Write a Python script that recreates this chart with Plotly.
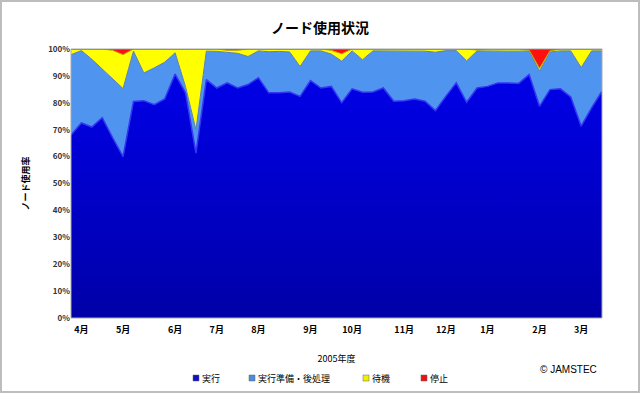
import plotly.graph_objects as go

# Weekly points of fiscal year 2005 (index 0..51)
weeks = list(range(52))
month_labels = ["4月", "5月", "6月", "7月", "8月", "9月", "10月", "11月", "12月", "1月", "2月", "3月"]
month_pos = [1, 5, 10, 14, 18, 23, 27, 32, 36, 40, 45, 49]

# cumulative boundaries (%)
run_top = [68, 72.5, 71, 74.5, 67, 60, 80.5, 80.8, 79.3, 81.4, 90.7, 83.7, 61.3, 88.6, 85.5, 87.4,
           85.5, 86.8, 89.3, 83.7, 83.7, 84.0, 82.4, 88.3, 85.5, 86.1, 80.0, 85.2, 83.9, 84.0, 85.5, 80.6,
           80.8, 81.4, 80.6, 77.1, 82.4, 87.4, 80.2, 85.5, 86.1, 87.4, 87.4, 87.2, 90.5, 78.7, 84.9, 85.2,
           82.2, 71.3, 78.1, 84.3]
prep_top = [97.9, 99.4, 96.2, 92.6, 89, 85.3, 99.2, 91.1, 93.0, 95.1, 98.6, 86, 70, 99.2, 99.1, 98.7,
            98.4, 97.2, 99.3, 99.0, 99.1, 98.9, 93.5, 99.3, 99.3, 98.1, 95.5, 99.3, 96.0, 99.3, 99.3, 99.3,
            99.3, 99.3, 99.2, 98.8, 99.4, 99.4, 95.6, 99.3, 99.2, 99.2, 99.2, 99.2, 99.3, 91.8, 98.9, 99.3,
            99.3, 93.1, 99.3, 99.3]
wait_top = [100, 100, 100, 100, 99.5, 97.9, 100, 100, 100, 100, 100, 100, 100, 100, 100, 99.5,
            99.5, 100, 100, 100, 100, 100, 100, 100, 100, 99.5, 98.2, 100, 100, 100, 100, 100,
            100, 100, 100, 100, 100, 100, 100, 99.6, 100, 100, 100, 100, 99.6, 92.8, 99.3, 100,
            100, 100, 100, 100]

run = run_top
prep = [round(p - r, 2) for p, r in zip(prep_top, run_top)]
wait = [round(w - p, 2) for w, p in zip(wait_top, prep_top)]
stop = [round(100 - w, 2) for w in wait_top]

series_names = ["実行", "実行準備・後処理", "待機", "停止"]
fills = ["#0000D0", "#4F94EE", "#FFFF00", "#FF1010"]
edges = ["#3535F5", "#5A7FB0", "#B8A800", "#C00000"]
legend_marks = ["#1010C8", "#4A8CE0", "#F0F000", "#F01010"]

fig = go.Figure()
series = [run, prep, wait, stop]
for k, (name, vals) in enumerate(zip(series_names, series)):
    kw = dict(fillcolor=fills[k])
    if k == 0:
        kw["fillgradient"] = dict(type="vertical", colorscale=[[0, "#0000A8"], [1, "#0000E8"]])
    fig.add_trace(go.Scatter(
        x=weeks, y=vals, name=name, stackgroup="one", mode="lines",
        line=dict(color=edges[k], width=1.5 if k == 0 else 1),
        showlegend=False, **kw))

L, R, T, B = 71, 38, 49, 75
W, H = 640, 393
pw, ph = W - L - R, H - T - B


def px_x(x):
    return (x - L) / pw


def px_y(y):
    return (T + ph - y) / ph


fig.update_layout(
    width=W, height=H,
    margin=dict(l=L, r=R, t=T, b=B, autoexpand=False),
    paper_bgcolor="white", plot_bgcolor="white",
    font=dict(family="Noto Sans CJK JP", size=9, color="#000000"),
    title=dict(text="<b>ノード使用状況</b>", x=0.5, xref="container", xanchor="center",
               y=1 - 28 / H, yref="container", yanchor="middle",
               font=dict(size=14, color="#000000")),
    showlegend=False,
    xaxis=dict(range=[0, 51], tickmode="array", tickvals=month_pos, ticktext=month_labels,
               showgrid=False, zeroline=False, showline=False, ticks="", automargin=False,
               tickfont=dict(size=9, weight="bold"), ticklabelstandoff=5,
               title=dict(text="2005年度", font=dict(size=9), standoff=20)),
    yaxis=dict(range=[0, 100], tickmode="linear", tick0=0, dtick=10, ticksuffix="%",
               showgrid=False, zeroline=False, showline=False, ticks="", automargin=False,
               tickfont=dict(size=8, weight="bold", color="#333333"),
               title=dict(text="<b>ノード使用率</b>", font=dict(size=9), standoff=16)),
    hovermode=False,
)

# plot-area frame
fig.add_shape(type="rect", xref="paper", yref="paper", x0=0, x1=1, y0=0, y1=1,
              line=dict(color="#A8A8A8", width=1), layer="above")
# outer chart frame
fig.add_shape(type="rect", xref="paper", yref="paper",
              x0=px_x(1), x1=px_x(W - 1), y0=px_y(H - 1), y1=px_y(1),
              line=dict(color="#BDBDBD", width=2), layer="above")

# legend (square keys + labels)
legend_key_x = [196, 252, 366, 424]
legend_y = 378
for k, name in enumerate(series_names):
    kx = legend_key_x[k]
    fig.add_shape(type="rect", xref="paper", yref="paper",
                  x0=px_x(kx - 3), x1=px_x(kx + 3), y0=px_y(legend_y + 3), y1=px_y(legend_y - 3),
                  fillcolor=legend_marks[k], line=dict(color="#666666", width=0.5))
    fig.add_annotation(text=name, xref="paper", yref="paper", x=px_x(kx + 4), y=px_y(legend_y),
                       xanchor="left", yanchor="middle", showarrow=False,
                       font=dict(size=9, color="#000000"))

fig.add_annotation(text="© JAMSTEC", xref="paper", yref="paper",
                   x=px_x(568), y=px_y(369), xanchor="center", yanchor="middle", showarrow=False,
                   font=dict(family="Liberation Sans", size=10, color="#000000"))

fig.write_html("out.html", config={"displayModeBar": False},
               post_script="document.body.style.margin='0px';")
